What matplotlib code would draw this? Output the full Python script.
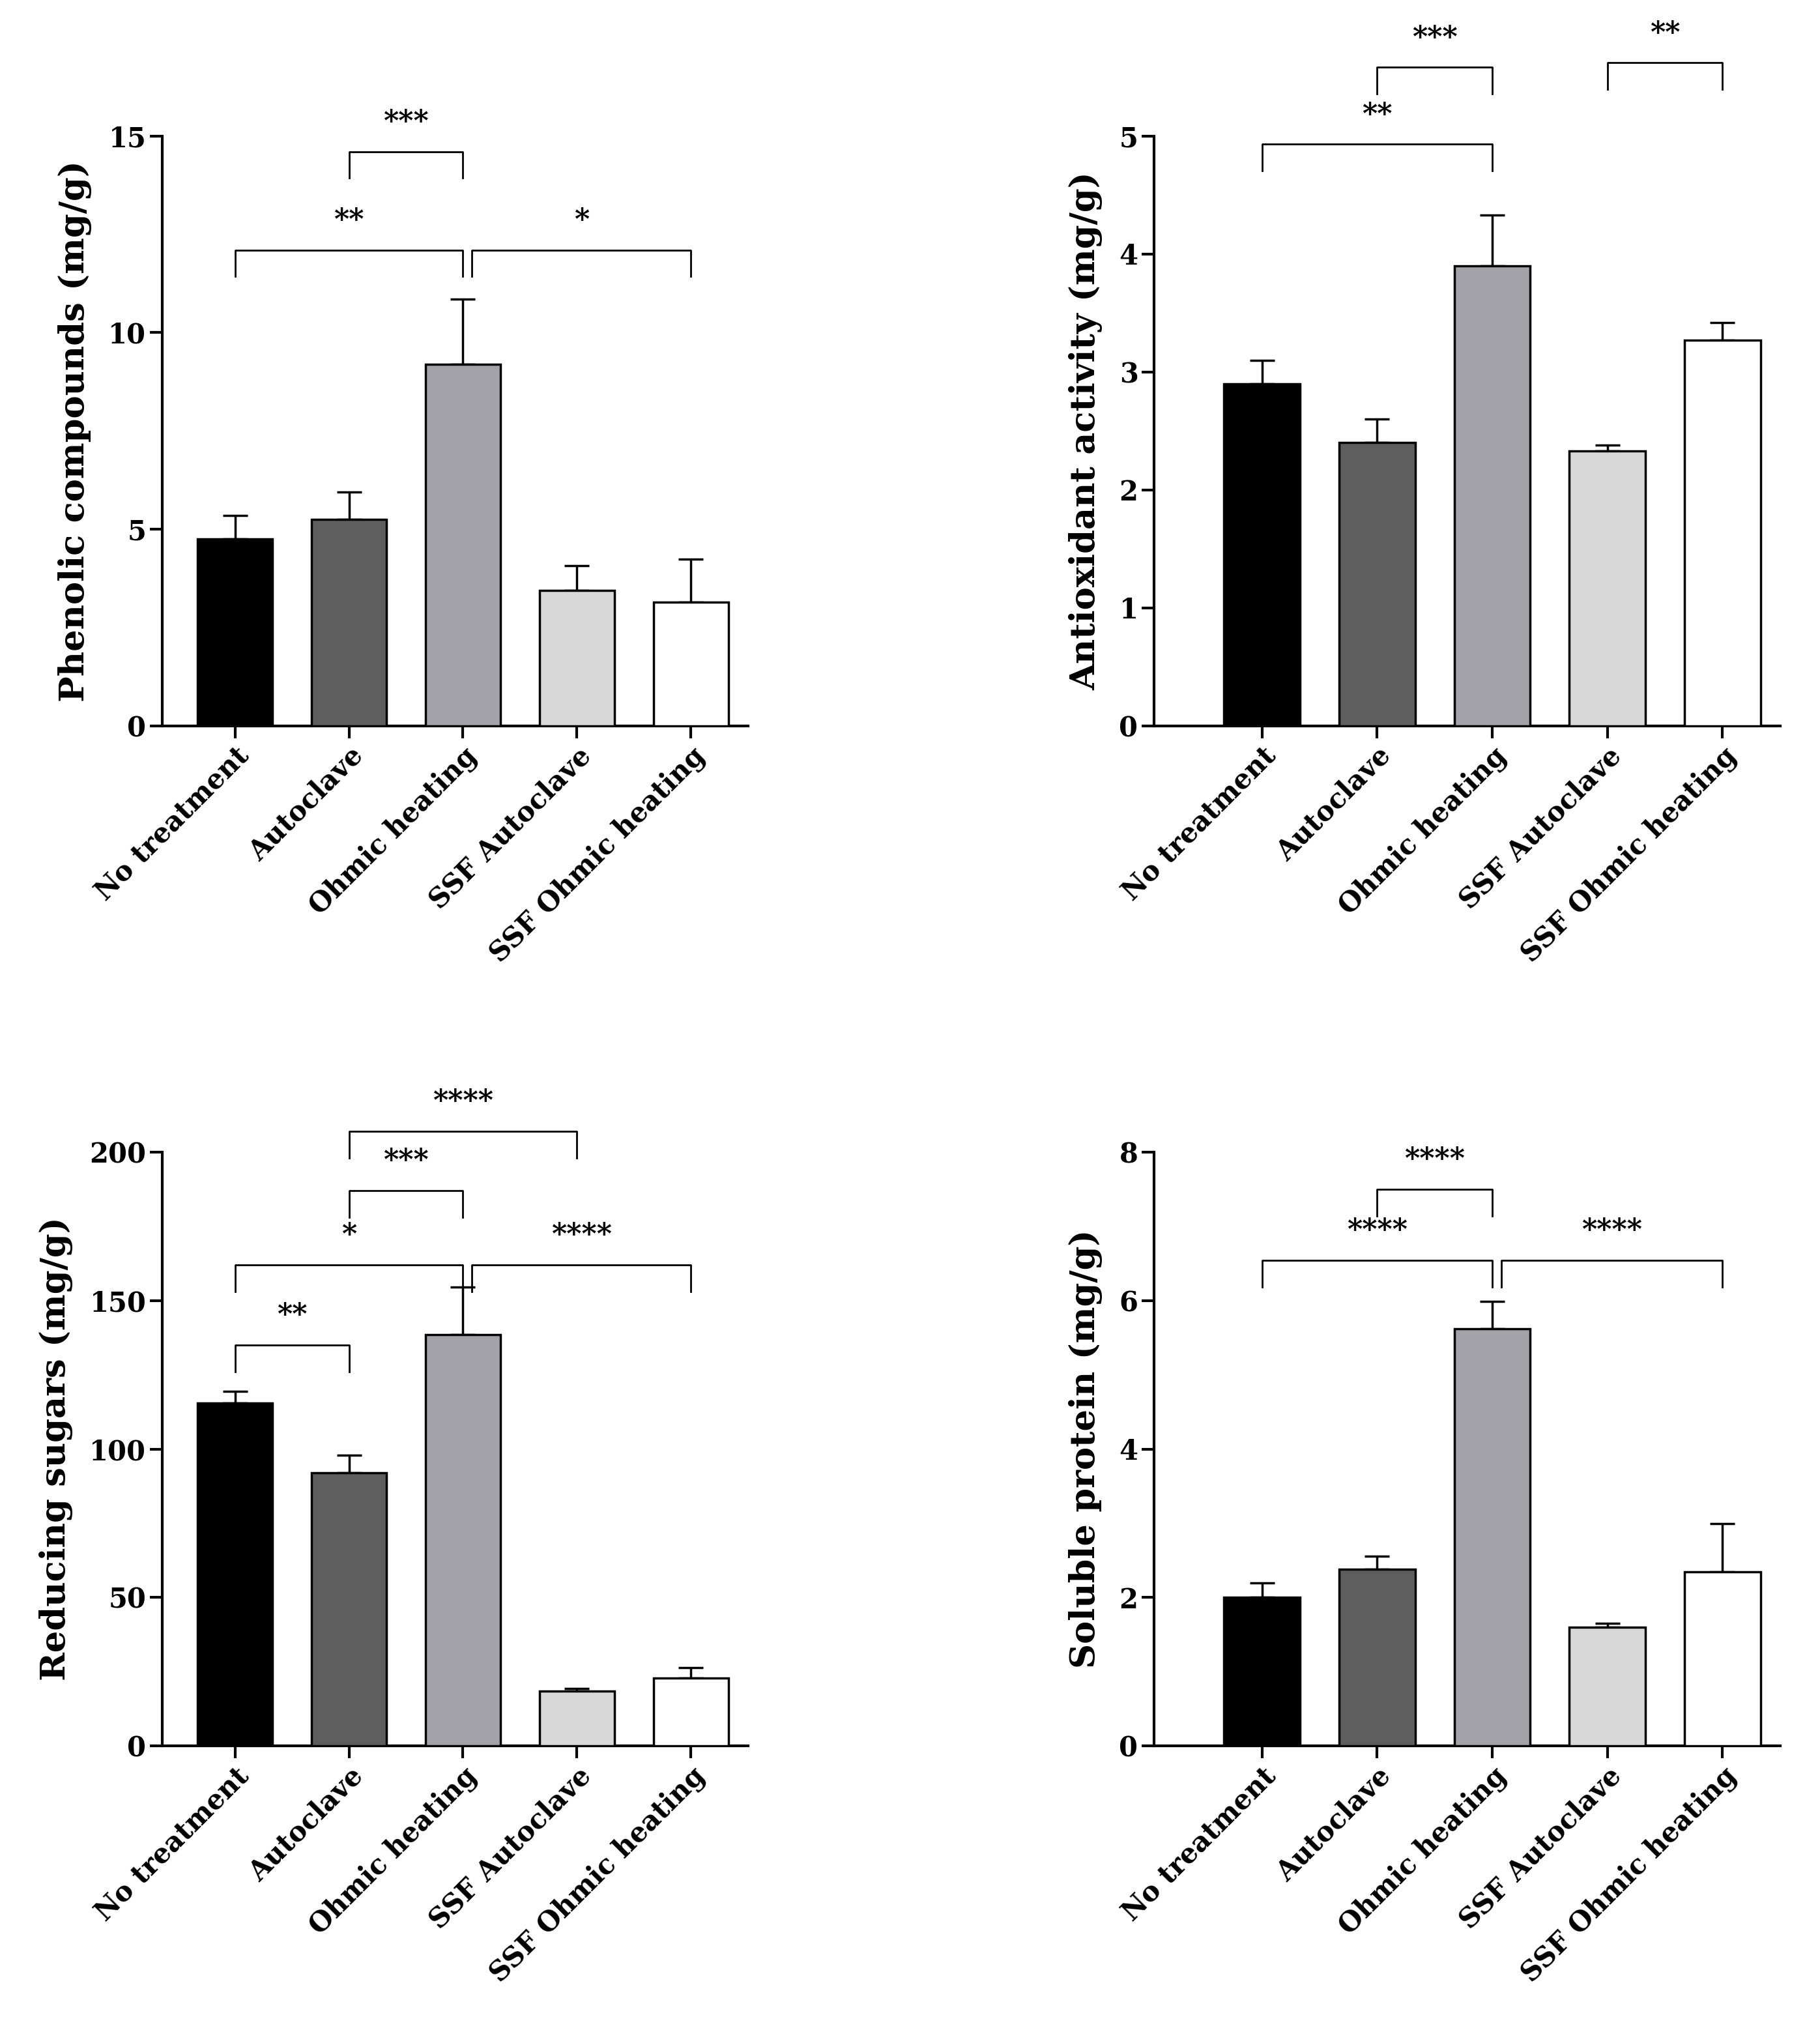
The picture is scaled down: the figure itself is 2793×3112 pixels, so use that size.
import matplotlib
matplotlib.use("Agg")
from matplotlib import pyplot as plt
import numpy as np

categories = ["No treatment", "Autoclave", "Ohmic heating", "SSF Autoclave", "SSF Ohmic heating"]
colors = ["#000000", "#5e5e5e", "#a2a2a8", "#d8d8d8", "#ffffff"]

phenolic = [4.75, 5.25, 9.2, 3.45, 3.15]
phenolic_err = [0.6, 0.7, 1.65, 0.62, 1.1]
antiox = [2.9, 2.4, 3.9, 2.33, 3.27]
antiox_err = [0.2, 0.2, 0.43, 0.05, 0.15]
sugars = [115.5, 92, 138.5, 18.5, 23]
sugars_err = [4, 6, 16, 1, 3.5]
protein = [2.0, 2.38, 5.62, 1.6, 2.35]
protein_err = [0.2, 0.18, 0.37, 0.05, 0.65]

# (i, j, bracket y, stars)
phenolic_sig = [(0, 2, 12.1, "**"), (1, 2, 14.6, "***"), (2, 4, 12.1, "*")]
antiox_sig = [(0, 2, 4.93, "**"), (1, 2, 5.58, "***"), (3, 4, 5.62, "**")]
sugars_sig = [(0, 1, 135, "**"), (0, 2, 162, "*"), (2, 4, 162, "****"),
              (1, 2, 187, "***"), (1, 3, 207, "****")]
protein_sig = [(0, 2, 6.54, "****"), (2, 4, 6.54, "****"), (1, 2, 7.5, "****")]

plt.rcParams["font.family"] = "DejaVu Serif"
plt.rcParams["font.weight"] = "bold"

fig = plt.figure(figsize=(27.93, 31.12), dpi=100)

panels = [
    ([0.089, 0.642, 0.322, 0.291], -0.64, phenolic, phenolic_err, phenolic_sig, 15, [0, 5, 10, 15], "Phenolic compounds (mg/g)"),
    ([0.634, 0.642, 0.344, 0.291], -0.94, antiox, antiox_err, antiox_sig, 5, [0, 1, 2, 3, 4, 5], "Antioxidant activity (mg/g)"),
    ([0.089, 0.139, 0.322, 0.293], -0.64, sugars, sugars_err, sugars_sig, 200, [0, 50, 100, 150, 200], "Reducing sugars (mg/g)"),
    ([0.634, 0.139, 0.344, 0.293], -0.94, protein, protein_err, protein_sig, 8, [0, 2, 4, 6, 8], "Soluble protein (mg/g)"),
]

x = np.arange(len(categories))
for rect, x0, vals, errs, sig, ymax, yt, ylab in panels:
    ax = fig.add_axes(rect)
    ax.bar(x, vals, width=0.66, color=colors, edgecolor="black", linewidth=2.5, zorder=3)
    ax.errorbar(x, vals, yerr=[np.zeros(len(vals)), errs], fmt="none", ecolor="black",
                elinewidth=2.5, capsize=14, capthick=2.5, zorder=2)
    ax.set_xlim(x0, 4.5)
    ax.set_ylim(0, ymax)
    ax.set_yticks(yt)
    ax.set_xticks(x)
    ax.set_xticklabels(categories, rotation=45, ha="right", rotation_mode="anchor")
    ax.tick_params(labelsize=30, width=3, length=14)
    for lab in ax.get_xticklabels() + ax.get_yticklabels():
        lab.set_fontweight("bold")
    ax.spines["top"].set_visible(False)
    ax.spines["right"].set_visible(False)
    ax.spines["left"].set_linewidth(3)
    ax.spines["bottom"].set_linewidth(3)
    ax.set_ylabel(ylab, fontsize=38, fontweight="bold", labelpad=18)
    drop = 0.045 * ymax
    for i, j, y, s in sig:
        xi = i + (0.08 if i == 2 and j > 2 else 0)
        xj = j
        ax.plot([xi, xi, xj, xj], [y - drop, y, y, y - drop], color="black",
                linewidth=2, clip_on=False)
        ax.text((xi + xj) / 2, y + 0.025 * ymax, s, ha="center", va="bottom",
                fontsize=32, fontweight="bold", clip_on=False)

fig.savefig("out.png", dpi=100)
